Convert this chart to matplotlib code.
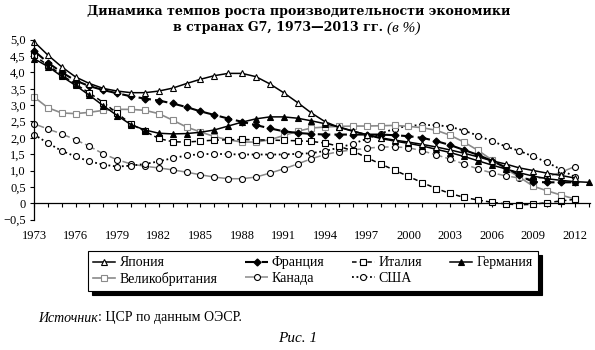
import matplotlib
matplotlib.use("Agg")
import matplotlib.pyplot as plt
import numpy as np

plt.rcParams["font.family"] = ["Liberation Serif", "DejaVu Serif"]

years = list(range(1973, 2013))
years_de = list(range(1973, 2014))

japan = [4.94, 4.53, 4.17, 3.86, 3.66, 3.51, 3.43, 3.38, 3.38, 3.43,
         3.52, 3.66, 3.79, 3.90, 3.97, 3.97, 3.87, 3.65, 3.38, 3.08,
         2.76, 2.49, 2.32, 2.20, 2.10, 2.00, 1.93, 1.87, 1.80, 1.72,
         1.63, 1.53, 1.42, 1.30, 1.20, 1.08, 1.00, 0.92, 0.85, 0.77]
france = [4.66, 4.30, 4.00, 3.75, 3.58, 3.46, 3.36, 3.27, 3.20, 3.14,
          3.05, 2.94, 2.81, 2.70, 2.59, 2.49, 2.39, 2.29, 2.20, 2.15,
          2.12, 2.10, 2.10, 2.10, 2.10, 2.10, 2.08, 2.05, 2.00, 1.90,
          1.78, 1.63, 1.48, 1.30, 1.10, 0.85, 0.65, 0.64, 0.64, 0.64]
italy = [4.52, 4.22, 3.92, 3.64, 3.37, 3.08, 2.75, 2.42, 2.20, 1.98,
         1.88, 1.87, 1.90, 1.93, 1.94, 1.95, 1.94, 1.93, 1.92, 1.91,
         1.89, 1.84, 1.74, 1.60, 1.39, 1.20, 1.01, 0.82, 0.63, 0.45,
         0.30, 0.18, 0.10, 0.03, -0.02, -0.05, -0.03, 0.02, 0.07, 0.12]
germany = [4.42, 4.18, 3.88, 3.60, 3.30, 2.98, 2.68, 2.40, 2.24, 2.14,
           2.12, 2.13, 2.17, 2.24, 2.36, 2.48, 2.58, 2.64, 2.64, 2.60,
           2.52, 2.43, 2.33, 2.21, 2.09, 1.98, 1.90, 1.83, 1.75, 1.65,
           1.55, 1.43, 1.30, 1.17, 1.05, 0.93, 0.83, 0.75, 0.70, 0.66, 0.64]
uk = [3.25, 2.92, 2.76, 2.74, 2.78, 2.84, 2.87, 2.87, 2.84, 2.74,
      2.54, 2.33, 2.18, 2.04, 1.94, 1.87, 1.87, 1.94, 2.07, 2.20,
      2.30, 2.33, 2.35, 2.36, 2.36, 2.37, 2.38, 2.35, 2.31, 2.23,
      2.08, 1.87, 1.62, 1.33, 1.05, 0.80, 0.52, 0.38, 0.25, 0.13]
canada = [2.43, 2.27, 2.12, 1.94, 1.74, 1.51, 1.33, 1.20, 1.13, 1.08,
          1.02, 0.95, 0.87, 0.80, 0.75, 0.75, 0.80, 0.92, 1.05, 1.20,
          1.36, 1.49, 1.58, 1.63, 1.68, 1.72, 1.72, 1.70, 1.60, 1.48,
          1.35, 1.20, 1.05, 0.93, 0.84, 0.77, 0.74, 0.80, 0.95, 1.12]
usa = [2.10, 1.84, 1.60, 1.43, 1.28, 1.18, 1.12, 1.15, 1.20, 1.28,
       1.38, 1.46, 1.50, 1.51, 1.50, 1.49, 1.49, 1.49, 1.49, 1.51,
       1.53, 1.60, 1.70, 1.82, 1.97, 2.13, 2.28, 2.37, 2.39, 2.39,
       2.34, 2.22, 2.07, 1.90, 1.74, 1.60, 1.43, 1.25, 1.03, 0.80]

GRAY = "#8a8a8a"

fig = plt.figure(figsize=(5.95, 3.5), dpi=100)
W, H = 595.0, 350.0
ax = fig.add_axes([34 / W, 1 - 219.6 / H, (590 - 34) / W, (219.6 - 39.7) / H])

ms = 4.3
common = dict(markersize=ms, clip_on=False, markeredgewidth=0.8)

l_can, = ax.plot(years, canada, color=GRAY, lw=1.1, dashes=(7, 2), marker="o",
                 mfc="white", mec="black", label="Канада", **common)
l_usa, = ax.plot(years, usa, color="black", lw=1.3, dashes=(1, 1.5), marker="o",
                 mfc="white", mec="black", label="США", **common)
l_uk, = ax.plot(years, uk, color=GRAY, lw=1.2, marker="s",
                mfc="white", mec=GRAY, label="Великобритания", **common)
l_it, = ax.plot(years, italy, color="black", lw=1.1, dashes=(3, 2), marker="s",
                mfc="white", mec="black", label="Италия", **common)
l_de, = ax.plot(years_de, germany, color="black", lw=1.1, marker="^",
                mfc="black", mec="black", label="Германия", **common)
l_fr, = ax.plot(years, france, color="black", lw=1.5, dashes=(6, 2), marker="D",
                mfc="black", mec="black", label="Франция",
                markersize=3.5, clip_on=False)
l_jp, = ax.plot(years, japan, color="black", lw=1.1, marker="^",
                mfc="white", mec="black", label="Япония", **common)

ax.set_xlim(1973, 2013.09)
ax.set_ylim(-0.5, 5.0)

for s in ("top", "right"):
    ax.spines[s].set_visible(False)
ax.spines["bottom"].set_position(("data", 0))
ax.spines["left"].set_linewidth(0.9)
ax.spines["bottom"].set_linewidth(0.9)

ax.set_xticks(list(range(1973, 2013, 3)))
ax.set_xticks(list(range(1973, 2014)), minor=True)
ax.tick_params(axis="x", which="both", direction="out", length=3, width=0.8)
ax.tick_params(axis="x", which="major", pad=16, labelsize=9)

yt = np.arange(-0.5, 5.01, 0.5)
ax.set_yticks(yt)
ylabels = []
for v in yt:
    if abs(v) < 1e-9:
        ylabels.append("0")
    else:
        ylabels.append(("%.1f" % v).replace(".", ",").replace("-", "\u2212"))
ax.set_yticklabels(ylabels)
ax.tick_params(axis="y", direction="out", length=3, width=0.8, pad=3, labelsize=9)

renderer = fig.canvas.get_renderer()


def text_row(parts, xc, y):
    # lay out differently styled pieces side by side, centred on xc (pixels)
    objs = [fig.text(0, 1 - y / H, s, ha="left", va="center", **kw) for s, kw in parts]
    widths = [o.get_window_extent(renderer).width for o in objs]
    x = xc - sum(widths) / 2
    for o, w in zip(objs, widths):
        o.set_x(x / W)
        x += w


def text_left(parts, x0, y):
    objs = [fig.text(0, 1 - y / H, s, ha="left", va="center", **kw) for s, kw in parts]
    x = x0
    for o in objs:
        o.set_x(x / W)
        x += o.get_window_extent(renderer).width


bold = dict(fontsize=9.1, fontweight="bold", family="DejaVu Serif")
text_row([("Динамика темпов роста производительности экономики", bold)], 299, 12)
text_row([("в странах G7, 1973—2013 гг. ", bold),
          ("(в %)", dict(fontsize=11, style="italic"))], 297, 28)

handles = [l_jp, l_uk, l_fr, l_can, l_it, l_usa, l_de]
leg = fig.legend(handles=handles, labels=[h.get_label() for h in handles],
                 ncol=4, loc="center", bbox_to_anchor=(313 / W, 1 - 271 / H),
                 fontsize=10, frameon=True, fancybox=False, handlelength=1.6,
                 handletextpad=0.3, columnspacing=2.0, labelspacing=0.15,
                 borderpad=0.4,
                 shadow={"ox": 3, "oy": -3, "facecolor": "black",
                         "edgecolor": "black", "alpha": 1})
leg.get_frame().set_edgecolor("black")
leg.get_frame().set_linewidth(0.8)

text_left([("Источник", dict(style="italic", fontsize=10)),
           (": ЦСР по данным ОЭСР.", dict(fontsize=10))], 38, 318)
fig.text(298 / W, 1 - 339 / H, "Рис. 1", style="italic", fontsize=11,
         ha="center", va="center")

fig.savefig("out.png", dpi=100)
